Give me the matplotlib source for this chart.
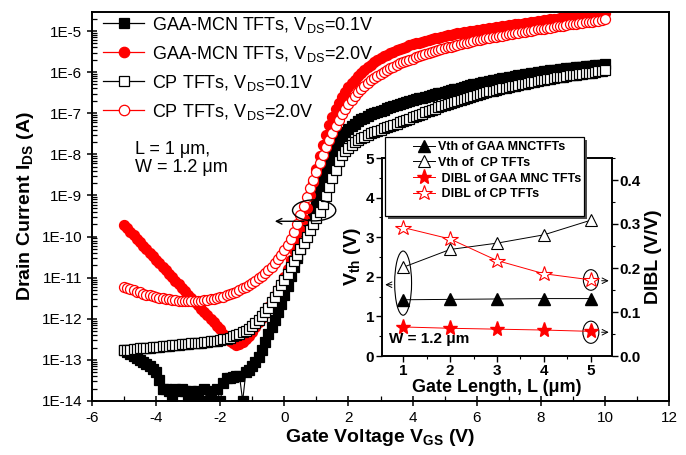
import numpy as np
import matplotlib
matplotlib.use("Agg")
import matplotlib.pyplot as plt
from matplotlib.lines import Line2D
from matplotlib.patches import Ellipse, Rectangle
from matplotlib.ticker import FuncFormatter, MultipleLocator, LogLocator, NullFormatter

plt.rcParams['font.family'] = ['Liberation Sans', 'DejaVu Sans']
plt.rcParams['mathtext.default'] = 'regular'
plt.rcParams['axes.unicode_minus'] = False

# ---------------- data (main transfer curves) ----------------
vgs_start, vgs_stop, n_points = -5.0, 10.0, 151
vgs = np.linspace(vgs_start, vgs_stop, n_points)

# log10(I_DS / A), one value per 0.1 V
gaa_vds01_log = [
    -12.77, -12.82, -12.86, -12.90, -12.95, -13.00, -13.05, -13.10, -13.15, -13.22,
    -13.30, -13.50, -13.72, -13.72, -13.75, -14.00, -13.72, -13.75, -13.72, -13.75,
    -14.00, -13.75, -14.00, -13.75, -14.00, -13.72, -14.00, -13.75, -14.00, -13.72,
    -14.00, -13.55, -13.45, -13.45, -13.42, -13.40, -13.38, -14.00, -13.30, -13.25,
    -13.15, -13.05, -12.92, -12.75, -12.57, -12.38, -12.20, -12.02, -11.83, -11.63,
    -11.42, -11.20, -10.97, -10.74, -10.52, -10.30, -10.08, -9.85, -9.62, -9.40,
    -9.15, -8.90, -8.65, -8.42, -8.20, -8.00, -7.83, -7.68, -7.56, -7.46,
    -7.38, -7.31, -7.25, -7.20, -7.15, -7.11, -7.07, -7.03, -7.00, -6.97,
    -6.94, -6.91, -6.88, -6.85, -6.82, -6.80, -6.77, -6.75, -6.72, -6.70,
    -6.68, -6.66, -6.64, -6.62, -6.60, -6.58, -6.56, -6.54, -6.52, -6.50,
    -6.48, -6.46, -6.44, -6.42, -6.40, -6.38, -6.36, -6.34, -6.32, -6.30,
    -6.28, -6.26, -6.25, -6.23, -6.21, -6.20, -6.18, -6.17, -6.15, -6.14,
    -6.12, -6.11, -6.09, -6.08, -6.07, -6.05, -6.04, -6.03, -6.02, -6.00,
    -5.99, -5.98, -5.97, -5.96, -5.95, -5.94, -5.93, -5.92, -5.91, -5.90,
    -5.89, -5.88, -5.87, -5.87, -5.86, -5.85, -5.84, -5.83, -5.83, -5.82,
    -5.81]

gaa_vds20_log = [
    -9.72, -9.80, -9.88, -9.97, -10.05, -10.13, -10.22, -10.30, -10.39, -10.47,
    -10.56, -10.64, -10.73, -10.81, -10.90, -10.98, -11.07, -11.15, -11.24, -11.32,
    -11.41, -11.49, -11.58, -11.66, -11.75, -11.83, -11.92, -12.00, -12.09, -12.17,
    -12.26, -12.36, -12.45, -12.53, -12.60, -12.63, -12.62, -12.57, -12.50, -12.41,
    -12.31, -12.20, -12.09, -11.97, -11.85, -11.72, -11.58, -11.44, -11.30, -11.15,
    -10.98, -10.78, -10.56, -10.32, -10.08, -9.85, -9.58, -9.30, -9.00, -8.68,
    -8.35, -8.05, -7.78, -7.52, -7.28, -7.08, -6.90, -6.75, -6.61, -6.48,
    -6.37, -6.27, -6.18, -6.10, -6.02, -5.95, -5.88, -5.82, -5.76, -5.71,
    -5.66, -5.62, -5.58, -5.54, -5.50, -5.47, -5.44, -5.41, -5.38, -5.35,
    -5.32, -5.30, -5.28, -5.26, -5.24, -5.22, -5.20, -5.18, -5.16, -5.14,
    -5.12, -5.10, -5.09, -5.07, -5.06, -5.04, -5.03, -5.02, -5.00, -4.99,
    -4.98, -4.97, -4.95, -4.94, -4.93, -4.92, -4.91, -4.90, -4.89, -4.87,
    -4.86, -4.85, -4.84, -4.83, -4.82, -4.81, -4.80, -4.79, -4.78, -4.76,
    -4.75, -4.74, -4.73, -4.72, -4.71, -4.70, -4.69, -4.68, -4.67, -4.66,
    -4.65, -4.64, -4.63, -4.62, -4.61, -4.60, -4.60, -4.59, -4.58, -4.57,
    -4.56]

cp_vds01_log = [
    -12.76, -12.75, -12.75, -12.74, -12.73, -12.72, -12.72, -12.71, -12.70, -12.69,
    -12.68, -12.68, -12.67, -12.66, -12.65, -12.64, -12.64, -12.63, -12.62, -12.62,
    -12.61, -12.60, -12.60, -12.59, -12.58, -12.57, -12.56, -12.55, -12.54, -12.53,
    -12.52, -12.50, -12.48, -12.46, -12.43, -12.40, -12.37, -12.33, -12.29, -12.24,
    -12.18, -12.11, -12.03, -11.94, -11.84, -11.73, -11.60, -11.47, -11.33, -11.19,
    -11.05, -10.90, -10.75, -10.60, -10.45, -10.30, -10.15, -10.00, -9.85, -9.70,
    -9.55, -9.40, -9.22, -9.02, -8.80, -8.58, -8.37, -8.17, -8.02, -7.92,
    -7.84, -7.77, -7.71, -7.66, -7.61, -7.57, -7.53, -7.49, -7.46, -7.43,
    -7.40, -7.37, -7.34, -7.31, -7.28, -7.25, -7.22, -7.19, -7.16, -7.13,
    -7.10, -7.07, -7.04, -7.01, -6.98, -6.95, -6.92, -6.89, -6.86, -6.83,
    -6.80, -6.77, -6.75, -6.72, -6.70, -6.67, -6.65, -6.62, -6.60, -6.57,
    -6.55, -6.53, -6.51, -6.49, -6.47, -6.45, -6.43, -6.41, -6.39, -6.38,
    -6.36, -6.34, -6.33, -6.31, -6.29, -6.28, -6.26, -6.25, -6.23, -6.22,
    -6.20, -6.19, -6.17, -6.16, -6.15, -6.13, -6.12, -6.11, -6.10, -6.08,
    -6.07, -6.06, -6.05, -6.04, -6.03, -6.02, -6.01, -6.00, -5.98, -5.97,
    -5.96]

cp_vds20_log = [
    -11.22, -11.25, -11.28, -11.31, -11.34, -11.36, -11.39, -11.41, -11.43, -11.45,
    -11.47, -11.49, -11.50, -11.52, -11.53, -11.54, -11.55, -11.56, -11.56, -11.57,
    -11.57, -11.57, -11.57, -11.56, -11.56, -11.55, -11.54, -11.53, -11.51, -11.50,
    -11.48, -11.46, -11.43, -11.40, -11.37, -11.34, -11.30, -11.26, -11.22, -11.17,
    -11.12, -11.07, -11.01, -10.95, -10.88, -10.81, -10.73, -10.64, -10.55, -10.45,
    -10.33, -10.20, -10.05, -9.88, -9.69, -9.48, -9.25, -9.03, -8.82, -8.62,
    -8.42, -8.22, -8.02, -7.83, -7.65, -7.48, -7.32, -7.17, -7.03, -6.90,
    -6.78, -6.67, -6.57, -6.48, -6.40, -6.33, -6.26, -6.20, -6.14, -6.09,
    -6.04, -5.99, -5.95, -5.91, -5.87, -5.83, -5.79, -5.76, -5.73, -5.70,
    -5.67, -5.64, -5.61, -5.59, -5.56, -5.54, -5.51, -5.49, -5.47, -5.44,
    -5.42, -5.40, -5.38, -5.36, -5.34, -5.32, -5.30, -5.28, -5.27, -5.25,
    -5.23, -5.21, -5.20, -5.18, -5.17, -5.15, -5.14, -5.12, -5.11, -5.09,
    -5.08, -5.07, -5.05, -5.04, -5.03, -5.02, -5.00, -4.99, -4.98, -4.96,
    -4.95, -4.94, -4.93, -4.92, -4.90, -4.89, -4.88, -4.87, -4.86, -4.84,
    -4.83, -4.82, -4.81, -4.80, -4.79, -4.78, -4.77, -4.76, -4.75, -4.73,
    -4.72]

series_labels = ["GAA-MCN TFTs, V$_{DS}$=0.1V", "GAA-MCN TFTs, V$_{DS}$=2.0V",
                 "CP TFTs, V$_{DS}$=0.1V", "CP TFTs, V$_{DS}$=2.0V"]

# ---------------- data (inset) ----------------
gate_length = [1, 2, 3, 4, 5]
vth_gaa = [1.42, 1.43, 1.44, 1.45, 1.45]
vth_cp = [2.24, 2.69, 2.85, 3.06, 3.43]
dibl_gaa = [0.066, 0.063, 0.061, 0.059, 0.056]
dibl_cp = [0.292, 0.266, 0.217, 0.187, 0.173]
inset_labels = ["Vth of GAA MNCTFTs", "Vth of  CP TFTs",
                " DIBL of GAA MNC TFTs", " DIBL of CP TFTs"]

# ---------------- figure ----------------
W, H = 686, 455
fig = plt.figure(figsize=(W / 100, H / 100), dpi=100)
ax = fig.add_axes([92 / W, 54 / H, 577 / W, 389 / H])

ms = 7.2
styles = [
    dict(color='k', marker='s', mfc='k', mec='k'),
    dict(color='r', marker='o', mfc='r', mec='r'),
    dict(color='k', marker='s', mfc='w', mec='k'),
    dict(color='r', marker='o', mfc='w', mec='r'),
]
curves = [gaa_vds01_log, gaa_vds20_log, cp_vds01_log, cp_vds20_log]
handles = []
for logs, st in zip(curves, styles):
    ax.plot(vgs, np.power(10.0, logs), lw=0.8, ms=ms, mew=0.9, **st)
    handles.append(Line2D([], [], lw=0.9, ms=7.5, mew=0.9, **st))

ax.set_yscale('log')
ax.set_xlim(-6, 12)
ax.set_ylim(1e-14, 2.9e-5)
ax.xaxis.set_major_locator(MultipleLocator(2))
ax.xaxis.set_minor_locator(MultipleLocator(1))
ax.yaxis.set_major_locator(LogLocator(base=10, numticks=20))
ax.yaxis.set_minor_locator(LogLocator(base=10, subs=np.arange(2, 10), numticks=20))
ax.yaxis.set_minor_formatter(NullFormatter())
ax.yaxis.set_major_formatter(FuncFormatter(lambda v, p: "1E%d" % int(round(np.log10(v)))))
ax.tick_params(which='major', direction='inout', length=7, width=1.1, labelsize=11,
               top=False, right=False)
ax.tick_params(which='minor', direction='in', length=3.5, width=0.9, top=False, right=False)
for sp in ax.spines.values():
    sp.set_linewidth(1.4)

ax.set_xlabel("Gate Voltage V$_{GS}$ (V)", fontsize=14, fontweight='bold', labelpad=2)
ax.set_ylabel("Drain Current I$_{DS}$ (A)", fontsize=14, fontweight='bold', labelpad=4)

leg = ax.legend(handles, series_labels, loc='upper left', bbox_to_anchor=(0.0, 1.021),
                frameon=False, fontsize=13, handlelength=2.3, handletextpad=0.4,
                labelspacing=0.5, borderaxespad=0.2, numpoints=1)

ax.text(0.075, 0.668, "L = 1 μm,\nW = 1.2 μm", transform=ax.transAxes,
        fontsize=13, va='top', ha='left', linespacing=1.1)

ax.add_patch(Ellipse((0.385, 0.49), 0.075, 0.054, transform=ax.transAxes,
                     fill=False, lw=1.0, ec='k', zorder=5))
ax.annotate('', xy=(0.312, 0.462), xytext=(0.372, 0.462), xycoords='axes fraction',
            arrowprops=dict(arrowstyle='->', lw=1.0, color='k'), zorder=5)

# ---------------- inset ----------------
axi = fig.add_axes([382 / W, 99 / H, 230 / W, 198 / H])
axi.set_facecolor('white')
axr = axi.twinx()

h1, = axi.plot(gate_length, vth_gaa, color='k', lw=0.7, marker='^', ms=8, mfc='k', mec='k')
h2, = axi.plot(gate_length, vth_cp, color='k', lw=0.7, marker='^', ms=8.5, mfc='w', mec='k', mew=0.8)
h3, = axr.plot(gate_length, dibl_gaa, color='r', lw=0.7, marker='*', ms=11, mfc='r', mec='r')
h4, = axr.plot(gate_length, dibl_cp, color='r', lw=0.7, marker='*', ms=11.5, mfc='w', mec='r', mew=0.8)

axi.set_xlim(0.55, 5.45)
axi.set_ylim(0, 5)
axr.set_ylim(0, 0.45)
axi.xaxis.set_major_locator(MultipleLocator(1))
axi.xaxis.set_minor_locator(MultipleLocator(0.5))
axi.yaxis.set_major_locator(MultipleLocator(1))
axi.yaxis.set_minor_locator(MultipleLocator(0.5))
axr.yaxis.set_major_locator(MultipleLocator(0.1))
axr.yaxis.set_minor_locator(MultipleLocator(0.05))
axr.yaxis.set_major_formatter(FuncFormatter(lambda v, p: "%.1f" % v))
for a in (axi, axr):
    a.tick_params(which='major', direction='out', length=4, width=1.0, labelsize=11, pad=1.5)
    a.tick_params(which='minor', direction='out', length=2, width=0.8)
    for lab in a.get_xticklabels() + a.get_yticklabels():
        lab.set_fontweight('bold')
    for sp in a.spines.values():
        sp.set_linewidth(1.2)

axi.set_xlabel("Gate Length, L (μm)", fontsize=13, fontweight='bold', labelpad=1)
axi.set_ylabel("V$_{th}$ (V)", fontsize=14, fontweight='bold', labelpad=2)
axr.set_ylabel("DIBL (V/V)", fontsize=14, fontweight='bold', labelpad=3)

axi.text(0.03, 0.05, "W = 1.2 μm", transform=axi.transAxes, fontsize=11,
         fontweight='bold', ha='left', va='bottom')

# ellipses / arrows in the inset
axi.add_patch(Ellipse((1.0, 1.84), 0.36, 1.62, fill=False, lw=0.8, ec='k'))
axi.annotate('', xy=(0.56, 1.8), xytext=(0.82, 1.8),
             arrowprops=dict(arrowstyle='->', lw=0.7, color='k'))
axi.add_patch(Ellipse((5.0, 1.92), 0.32, 0.52, fill=False, lw=0.8, ec='k'))
axi.annotate('', xy=(5.44, 1.9), xytext=(5.17, 1.9),
             arrowprops=dict(arrowstyle='->', lw=0.7, color='k'))
axi.add_patch(Ellipse((5.0, 0.6), 0.34, 0.56, fill=False, lw=0.8, ec='k'))
axi.annotate('', xy=(5.44, 0.6), xytext=(5.17, 0.6),
             arrowprops=dict(arrowstyle='->', lw=0.7, color='k'))

# inset legend: framed box with drop shadow, partly above the inset axes
bx0, by0, bw, bh = 385, 137, 199, 79          # pixel box (left, top, width, height)
shadow = Rectangle(((bx0 + 3) / W, 1 - (by0 + bh + 3) / H), bw / W, bh / H,
                   transform=fig.transFigure, fc='0.3', ec='0.3', lw=0, zorder=3.8)
box = Rectangle((bx0 / W, 1 - (by0 + bh) / H), bw / W, bh / H,
                transform=fig.transFigure, fc='w', ec='k', lw=0.9, zorder=3.9)
fig.add_artist(shadow)
fig.add_artist(box)
lg2 = fig.legend([h1, h2, h3, h4], inset_labels, loc='upper left',
                 bbox_to_anchor=(413 / W, 1 - 141 / H), bbox_transform=fig.transFigure,
                 prop=dict(size=9, weight='bold'), frameon=False,
                 borderpad=0, labelspacing=0.3, handlelength=1.75, handletextpad=0.25,
                 borderaxespad=0, numpoints=1)
lg2.set_zorder(4)

fig.savefig("out.png", dpi=100)
